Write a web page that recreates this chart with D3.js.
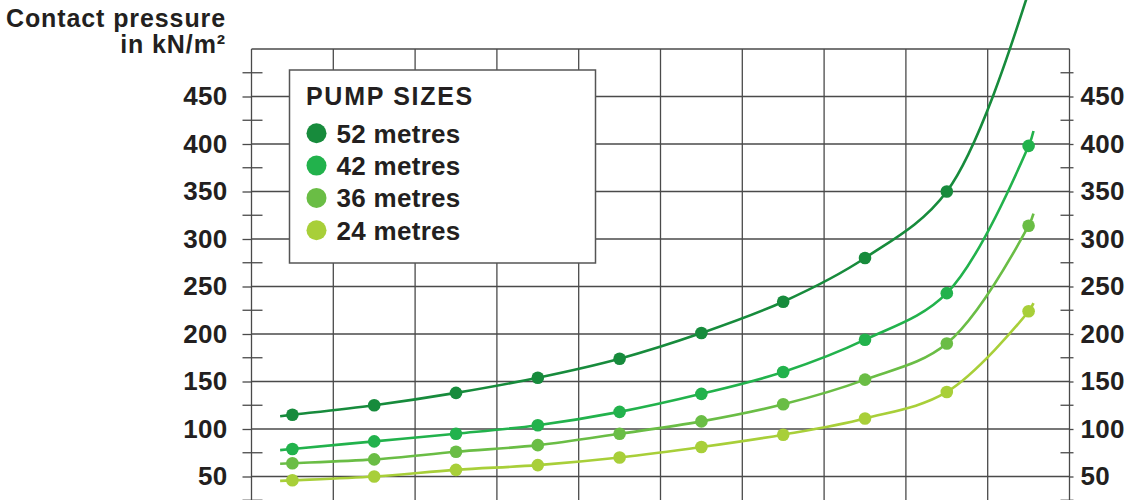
<!DOCTYPE html>
<html lang="en">

<head>
    <meta charset="UTF-8">
    <title>Contact pressure</title>
    <script src="https://d3js.org/d3.v7.min.js"></script>
    <style>
        body { margin: 0; background: #fff; }
        text { font-family: "Liberation Sans", Arial, sans-serif; font-weight: bold; fill: #231f20; }
    </style>
</head>

<body>
    <svg width="1128" height="500" class="chart"></svg>
</body>

<script>
    // x categories (their labels sit below the visible area)
    var categories = ['1', '2', '3', '4', '5', '6', '7', '8', '9', '10'];
    var yTicks = [50, 100, 150, 200, 250, 300, 350, 400, 450];
    var minorTicks = [25, 75, 125, 175, 225, 275, 325, 375, 425, 475];

    // contact pressure in kN/m2 per pump size
    var pump52 = [115, 125, 138, 154, 174, 201, 234, 280, 350, 560];
    var pump42 = [79, 87, 95, 104, 118, 137, 160, 194, 243, 398];
    var pump36 = [64, 68, 76, 83, 95, 108, 126, 152, 190, 314];
    var pump24 = [46, 50, 57, 62, 70, 81, 94, 111, 139, 224];

    var seriesNames = ['52 metres', '42 metres', '36 metres', '24 metres'];
    var seriesData = [pump52, pump42, pump36, pump24];
    var seriesColors = ['#178b3c', '#22b24c', '#6abd45', '#a8cf39'];

    var svg = d3.select('.chart');

    var left = 251.5, right = 1069.5;
    var x = d3.scaleBand().domain(categories).range([left, right]);
    var y = d3.scaleLinear().domain([0, 500]).range([524, 49]);
    var bw = x.bandwidth();

    var gridColor = '#4a4a4a';

    // vertical grid lines on the band edges
    var edges = categories.map(function (c) { return x(c); }).concat([right]);
    svg.append('g').selectAll('line')
        .data(edges)
        .enter()
        .append('line')
        .attr('x1', function (d) { return d; })
        .attr('x2', function (d) { return d; })
        .attr('y1', y(500))
        .attr('y2', 500)
        .attr('stroke', gridColor)
        .attr('stroke-width', 1.3);

    // top of the frame
    svg.append('line')
        .attr('x1', left).attr('x2', right)
        .attr('y1', y(500)).attr('y2', y(500))
        .attr('stroke', gridColor).attr('stroke-width', 1.3);

    // horizontal grid lines
    svg.append('g').selectAll('line')
        .data(yTicks)
        .enter()
        .append('line')
        .attr('x1', left)
        .attr('x2', right)
        .attr('y1', function (d) { return y(d); })
        .attr('y2', function (d) { return y(d); })
        .attr('stroke', gridColor)
        .attr('stroke-width', 1.3);

    // minor ticks, crossing the frame on both sides
    var minor = svg.append('g');
    minor.selectAll('.ml')
        .data(minorTicks)
        .enter()
        .append('line')
        .attr('x1', left - 9).attr('x2', left + 11)
        .attr('y1', function (d) { return y(d); })
        .attr('y2', function (d) { return y(d); })
        .attr('stroke', gridColor).attr('stroke-width', 1.3);
    minor.selectAll('.mr')
        .data(minorTicks)
        .enter()
        .append('line')
        .attr('x1', right - 9).attr('x2', right + 4)
        .attr('y1', function (d) { return y(d); })
        .attr('y2', function (d) { return y(d); })
        .attr('stroke', gridColor).attr('stroke-width', 1.3);

    // axes: left and right labels
    var yAxisL = d3.axisLeft(y).tickValues(yTicks).tickSizeInner(9).tickSizeOuter(0).tickPadding(15);
    var yAxisR = d3.axisRight(y).tickValues(yTicks).tickSizeInner(4).tickSizeOuter(0).tickPadding(7);

    [[yAxisL, left], [yAxisR, right]].forEach(function (a) {
        var g = svg.append('g')
            .attr('transform', 'translate(' + a[1] + ',0)')
            .call(a[0]);
        g.select('.domain').remove();
        g.selectAll('line').attr('stroke', gridColor).attr('stroke-width', 1.3);
        g.selectAll('text')
            .style('font-size', '26px')
            .style('font-family', '"Liberation Sans", Arial, sans-serif')
            .style('font-weight', 'bold')
            .style('letter-spacing', '0.3px')
            .attr('fill', '#231f20');
    });

    // axis title
    var title = svg.append('text')
        .attr('text-anchor', 'end')
        .style('font-size', '25px')
        .style('letter-spacing', '0.9px');
    title.append('tspan').attr('x', 226).attr('y', 27).text('Contact pressure');
    title.append('tspan').attr('x', 226).attr('y', 53).text('in kN/m²');

    // curves, with a short stub past the first and last points
    function extrap(vals, f) {
        if (f < 0) {
            return vals[0] + f * (vals[1] - vals[0]);
        }
        var n = vals.length - 1;
        var e1 = vals[n] - vals[n - 1], e2 = vals[n] - 2 * vals[n - 1] + vals[n - 2];
        return vals[n] + f * (e1 + e2);
    }

    var line = d3.line()
        .x(function (d) { return x(categories[0]) + bw / 2 + d.i * bw; })
        .y(function (d) { return y(d.v); })
        .curve(d3.curveCatmullRom.alpha(0.5));

    var plot = svg.append('g');
    seriesData.forEach(function (vals, s) {
        var pts = vals.map(function (v, i) { return { i: i, v: v }; });
        var fs = -0.15, fe = 0.06;
        pts.unshift({ i: fs, v: extrap(vals, fs) });
        pts.push({ i: vals.length - 1 + fe, v: extrap(vals, fe) });

        plot.append('path')
            .datum(pts)
            .attr('d', line)
            .attr('fill', 'none')
            .attr('stroke', seriesColors[s])
            .attr('stroke-width', 2.6);

        plot.append('g').selectAll('circle')
            .data(vals)
            .enter()
            .append('circle')
            .attr('cx', function (d, i) { return x(categories[i]) + bw / 2; })
            .attr('cy', function (d) { return y(d); })
            .attr('r', 6.3)
            .attr('fill', seriesColors[s]);
    });

    // legend
    var lg = svg.append('g').attr('transform', 'translate(289.5,70)');
    lg.append('rect')
        .attr('width', 306)
        .attr('height', 193)
        .attr('fill', '#fff')
        .attr('stroke', '#555')
        .attr('stroke-width', 1.5);
    lg.append('text')
        .attr('x', 16.5)
        .attr('y', 35)
        .style('font-size', '25px')
        .style('letter-spacing', '1.7px')
        .text('PUMP SIZES');
    var items = lg.selectAll('.item')
        .data(seriesNames)
        .enter()
        .append('g')
        .attr('transform', function (d, i) { return 'translate(27,' + (63.3 + i * 32.3) + ')'; });
    items.append('circle')
        .attr('r', 10)
        .attr('fill', function (d, i) { return seriesColors[i]; });
    items.append('text')
        .attr('x', 20)
        .attr('y', 9.5)
        .style('font-size', '26px')
        .style('letter-spacing', '0.3px')
        .text(function (d) { return d; });
</script>

</html>
